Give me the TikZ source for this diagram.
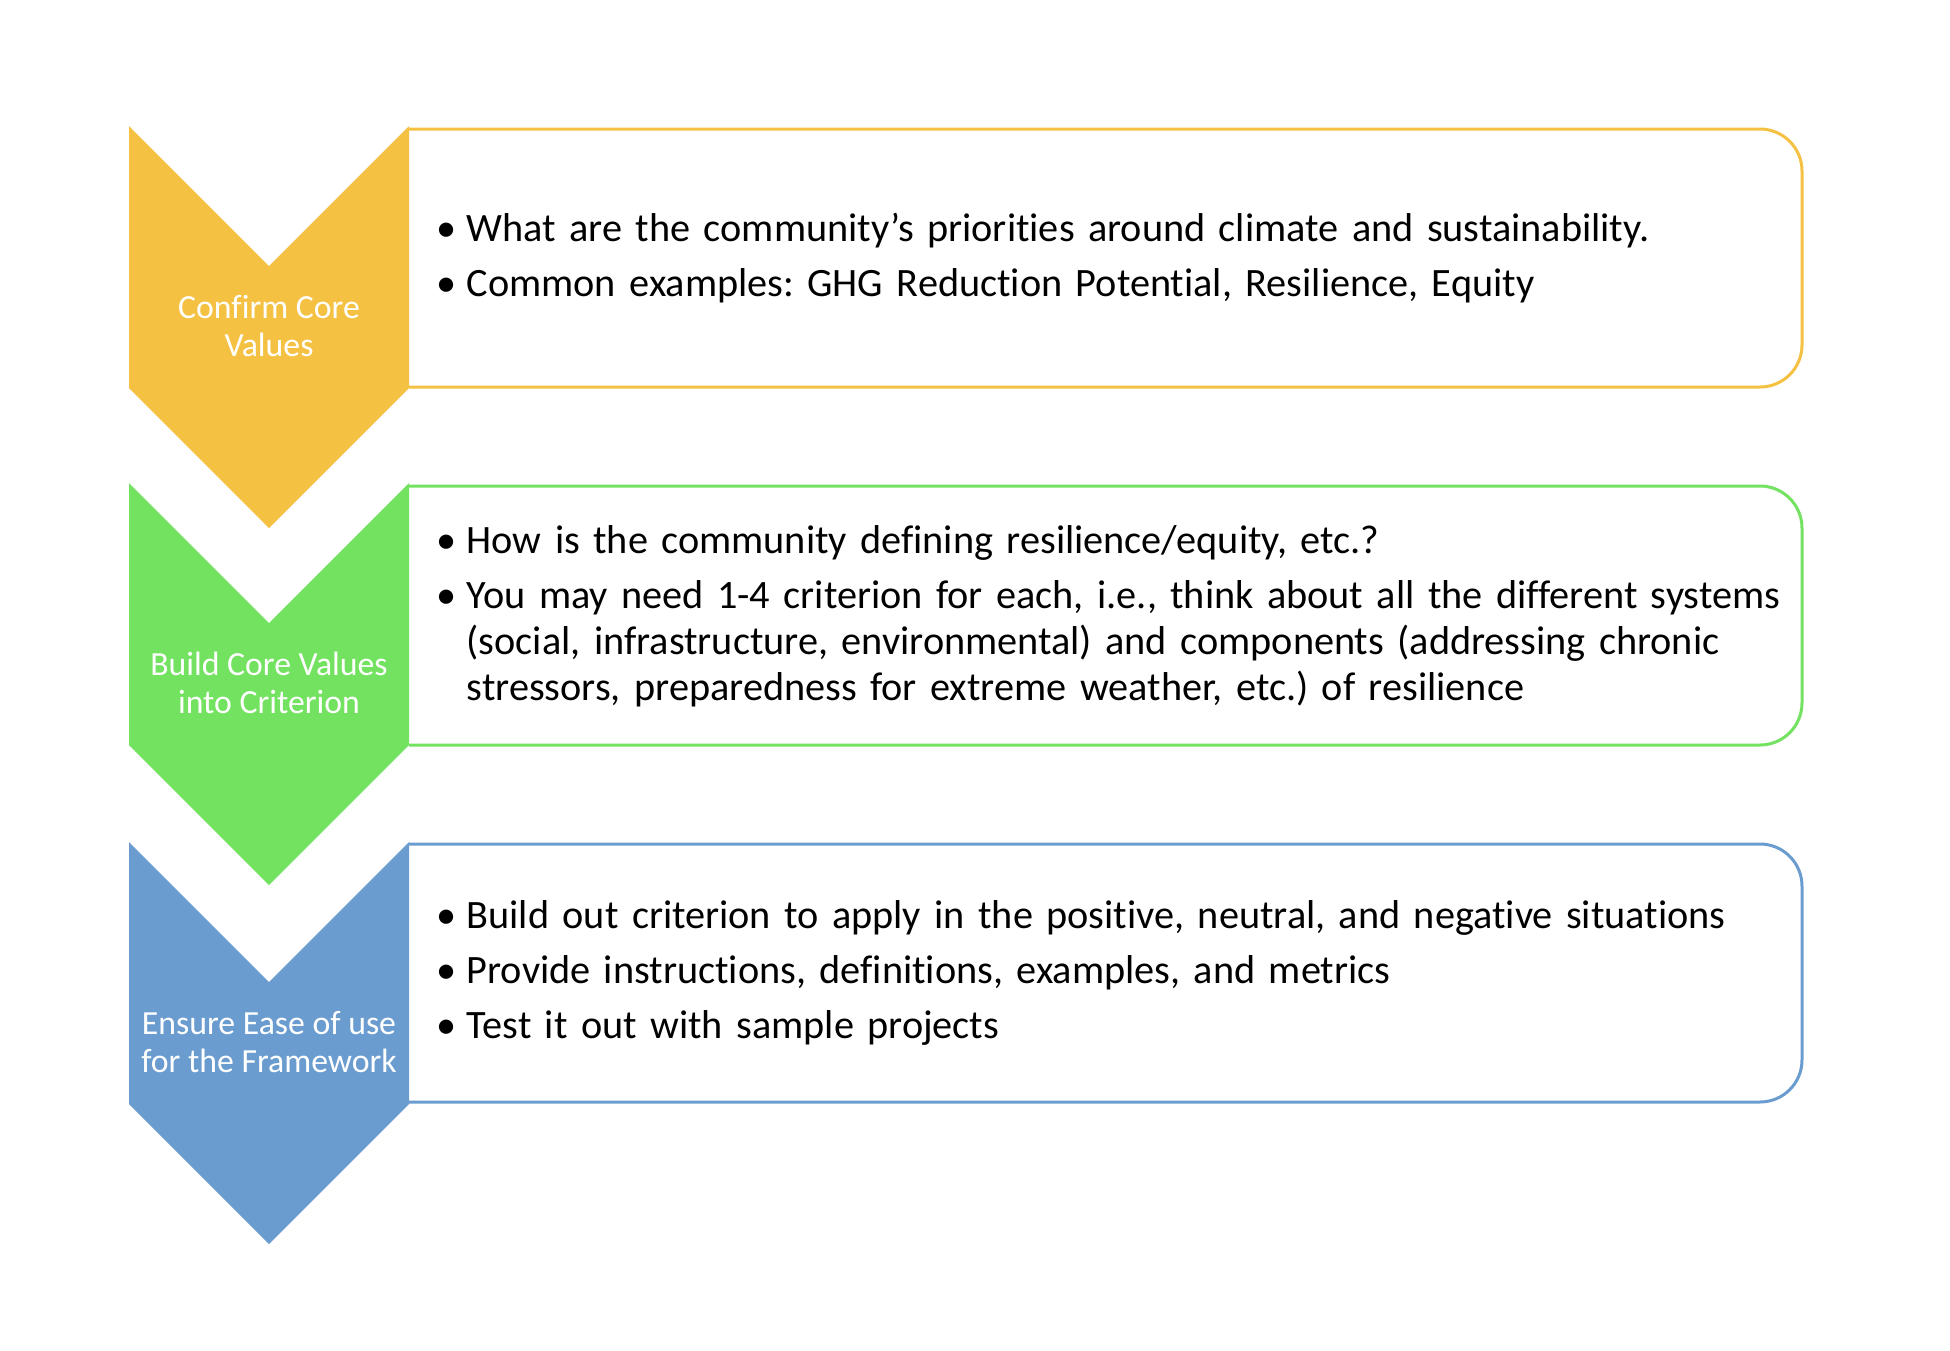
\documentclass[tikz,border=0pt]{standalone}
\usepackage{fontspec}
\setmainfont{Carlito}[Ligatures=NoCommon]
\newfontfamily\bodyfont{Carlito}[Ligatures=NoCommon, WordSpace=0.8]
\usepackage{xcolor}
\usepackage{enumitem}
\usepackage{tikz}
\usetikzlibrary{positioning}

\definecolor{stepgold}{RGB}{245,193,66}
\definecolor{stepgreen}{RGB}{115,226,96}
\definecolor{stepblue}{RGB}{106,156,208}

\begin{document}
\frenchspacing
\begin{tikzpicture}[
  x=0.01cm, y=-0.01cm,
  lbl/.style={text=white, align=center, inner sep=0pt,
              font=\fontsize{9.6}{10.8}\selectfont},
  frame/.style={line width=0.03cm, rounded corners=0.42cm},
  txt/.style={anchor=west, inner sep=0pt, text width=14.2cm, align=left,
              font=\bodyfont\fontsize{11.45}{13.05}\selectfont}
]
\useasboundingbox (0,0) rectangle (1950,1350);

% boxes (left side hidden under the chevrons)
\draw[frame, draw=stepgold]  (409,129) -- (1802,129) -- (1802,387) -- (409,387);
\draw[frame, draw=stepgreen] (409,486) -- (1802,486) -- (1802,745) -- (409,745);
\draw[frame, draw=stepblue]  (409,844) -- (1802,844) -- (1802,1102) -- (409,1102);

% chevrons
\fill[stepgold]  (129,126) -- (269,266) -- (409,126) -- (409,388) -- (269,528) -- (129,388) -- cycle;
\fill[stepgreen] (129,483) -- (269,623) -- (409,483) -- (409,745) -- (269,885) -- (129,745) -- cycle;
\fill[stepblue]  (129,842) -- (269,982) -- (409,842) -- (409,1104) -- (269,1244) -- (129,1104) -- cycle;

\node[lbl] (core)   at (269,326)  {Confirm Core\\Values};
\node[lbl] (crit)   at (269,683)  {Build Core Values\\into Criterion};
\node[lbl] (ease)   at (269,1042) {Ensure Ease of use\\for the Framework};

\node[txt] (coretxt) at (436,249) {%
  \begin{itemize}[label=\textbullet, leftmargin=0.3cm, labelwidth=0.3cm,
                  labelsep=0pt, align=left, topsep=0pt, partopsep=0pt,
                  parsep=0pt, itemsep=2.6pt]
  \item What are the community’s priorities around climate and sustainability.
  \item Common examples: GHG Reduction Potential, Resilience, Equity
  \end{itemize}};
\node[txt] (crittxt) at (436,607) {%
  \begin{itemize}[label=\textbullet, leftmargin=0.3cm, labelwidth=0.3cm,
                  labelsep=0pt, align=left, topsep=0pt, partopsep=0pt,
                  parsep=0pt, itemsep=2.6pt]
  \item How is the community defining resilience/equity, etc.?
  \item You may need 1-4 criterion for each, i.e., think about all the different systems\newline
        (social, infrastructure, environmental) and components (addressing chronic\newline
        stressors, preparedness for extreme weather, etc.) of resilience
  \end{itemize}};
\node[txt] (easetxt) at (436,964) {%
  \begin{itemize}[label=\textbullet, leftmargin=0.3cm, labelwidth=0.3cm,
                  labelsep=0pt, align=left, topsep=0pt, partopsep=0pt,
                  parsep=0pt, itemsep=2.6pt]
  \item Build out criterion to apply in the positive, neutral, and negative situations
  \item Provide instructions, definitions, examples, and metrics
  \item Test it out with sample projects
  \end{itemize}};
\end{tikzpicture}
\end{document}
